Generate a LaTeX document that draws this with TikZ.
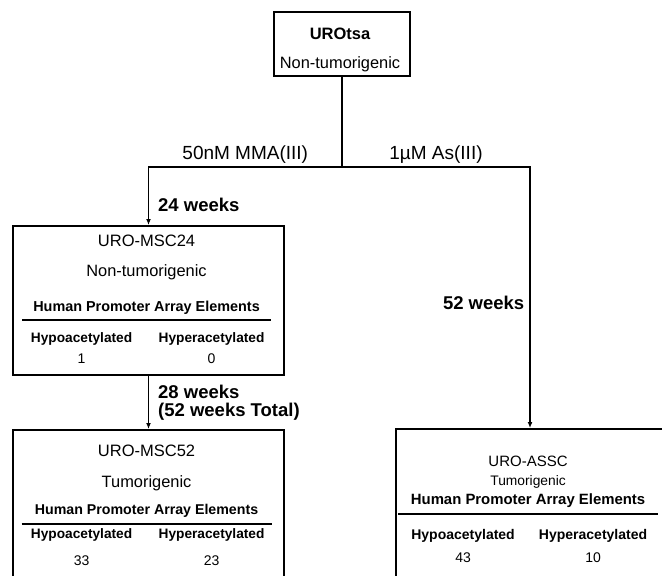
\documentclass[tikz,border=0pt]{standalone}
\usepackage{fontspec}
\setmainfont{Liberation Sans}
\usepackage{array}
\usepackage{tikz}
\usetikzlibrary{arrows.meta, positioning, calc}
\setlength{\arrayrulewidth}{1.6pt}

\begin{document}
\begin{tikzpicture}[
  x=1pt, y=-1pt,
  block/.style = {draw, line width=1.8pt, inner sep=0pt, align=center, font=\fontsize{14}{16}\selectfont},
  arrow/.style = {line width=1.4pt, -{Latex[length=6pt, width=5pt]}},
  steplabel/.style = {font=\bfseries\fontsize{18.5}{18}\selectfont, inner sep=0pt, align=left},
  doselabel/.style = {font=\fontsize{19}{19}\selectfont, inner sep=0pt}
]
  \useasboundingbox (0,0) rectangle (662,576);
  \clip (0,0) rectangle (662,576);

  % ======================================================
  % Parent line (top)
  % ======================================================
  \node[block, minimum width=136pt, minimum height=64pt] (urotsa) at (342,44) {
    \begin{tabular}{c}
      \rule{0pt}{24.9pt}{\bfseries\fontsize{16.5}{16}\selectfont UROtsa} \\[11.8pt]
      {\fontsize{16.4}{16}\selectfont Non-tumorigenic}
    \end{tabular}
  };

  % MMA(III) line after 24 weeks
  \node[block, anchor=north, minimum width=271pt, minimum height=149pt] (msc24) at (148.5,225) {
    \begin{tabular}{@{}wc{119pt}@{\hspace{11pt}}wc{119pt}@{}}
      \multicolumn{2}{c}{\rule{0pt}{13.8pt}\fontsize{16.5}{16}\selectfont URO-MSC24} \\[13.5pt]
      \multicolumn{2}{c}{\fontsize{16.4}{16}\selectfont Non-tumorigenic} \\[18.6pt]
      \multicolumn{2}{c}{\bfseries\fontsize{14.4}{16}\selectfont Human Promoter Array Elements} \\[2.85pt]
      \hline
      \rule{0pt}{21.85pt}\bfseries\fontsize{13.7}{16}\selectfont Hypoacetylated &
      \bfseries\fontsize{13.7}{16}\selectfont Hyperacetylated \\[4.5pt]
      1 & 0
    \end{tabular}
  };

  % MMA(III) line after 52 weeks
  \node[block, anchor=north, minimum width=271pt, minimum height=156pt] (msc52) at (148.5,429) {
    \begin{tabular}{@{}wc{120pt}@{\hspace{10pt}}wc{120pt}@{}}
      \multicolumn{2}{c}{\fontsize{16.5}{16}\selectfont URO-MSC52} \\[13.7pt]
      \multicolumn{2}{c}{\fontsize{16.4}{16}\selectfont Tumorigenic} \\[11.4pt]
      \multicolumn{2}{c}{\bfseries\fontsize{14.2}{16}\selectfont Human Promoter Array Elements} \\[3.85pt]
      \hline
      \rule{0pt}{13.75pt}\bfseries\fontsize{13.7}{16}\selectfont Hypoacetylated &
      \bfseries\fontsize{13.7}{16}\selectfont Hyperacetylated \\[11.5pt]
      33 & 23
    \end{tabular}
  };

  % As(III) line after 52 weeks
  \node[block, anchor=north, minimum width=268pt, minimum height=165pt] (assc) at (530,428) {
    \begin{tabular}{@{}wc{130pt}@{}wc{130pt}@{}}
      \multicolumn{2}{c}{\fontsize{15}{16}\selectfont URO-ASSC} \\[3.1pt]
      \multicolumn{2}{c}{\fontsize{13.8}{16}\selectfont Tumorigenic} \\[3.2pt]
      \multicolumn{2}{c}{\bfseries\fontsize{14.9}{16}\selectfont Human Promoter Array Elements} \\[3.75pt]
      \hline
      \rule{0pt}{24.85pt}\bfseries\fontsize{14}{16}\selectfont Hypoacetylated &
      \bfseries\fontsize{14}{16}\selectfont Hyperacetylated \\[7.4pt]
      43 & 10
    \end{tabular}
  };

  % split below UROtsa
  \coordinate (split) at (342,167);
  \draw[line width=1.4pt] (urotsa.south) -- (split);

  % MMA(III) branch
  \draw[arrow] (split) -| node[doselabel, pos=0.25, above=3pt] {50nM MMA(III)}
    node[steplabel, pos=0.83, right=9pt] {24 weeks} (msc24.north);

  % As(III) branch
  \draw[arrow] (split) -| node[doselabel, pos=0.25, above=3pt] {1µM As(III)}
    node[steplabel, pos=0.76, left=5pt] {52 weeks} (assc.north);

  % MSC24 -> MSC52
  \draw[arrow] (msc24.south) -- node[steplabel, right=9pt] {28 weeks\\(52 weeks Total)} (msc52.north);

\end{tikzpicture}
\end{document}
